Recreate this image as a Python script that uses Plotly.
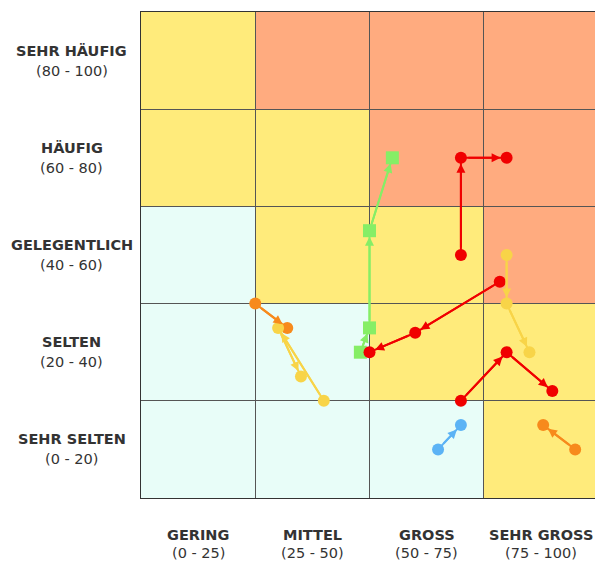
import plotly.graph_objects as go

# ---- data ----
x_labels = ["GERING", "MITTEL", "GROSS", "SEHR GROSS"]
x_ranges = ["(0 - 25)", "(25 - 50)", "(50 - 75)", "(75 - 100)"]
y_labels = ["SEHR SELTEN", "SELTEN", "GELEGENTLICH", "HÄUFIG", "SEHR HÄUFIG"]
y_ranges = ["(0 - 20)", "(20 - 40)", "(40 - 60)", "(60 - 80)", "(80 - 100)"]

# risk level per cell: rows bottom->top, columns left->right (0 low, 1 mid, 2 high)
risk_levels = [
    [0, 0, 0, 1],
    [0, 0, 1, 1],
    [0, 1, 1, 2],
    [1, 1, 2, 2],
    [1, 2, 2, 2],
]
level_colors = ["#E8FDF8", "#FFEB7B", "#FFAB7F"]

series_names = ["green", "red1", "red2", "red3", "yellow1", "orange1", "yellow2", "blue", "orange2"]
series_x = [
    [48, 50, 50, 55],
    [70, 70, 80],
    [78.5, 60, 50],
    [70, 80, 90],
    [80, 80, 85],
    [25, 32],
    [40, 30, 35],
    [65, 70],
    [95, 88],
]
series_y = [
    [30, 35, 55, 70],
    [50, 70, 70],
    [44.5, 34, 30],
    [20, 30, 22],
    [50, 40, 30],
    [40, 35],
    [20, 35, 25],
    [10, 15],
    [10, 15],
]
series_colors = ["#86EE66", "#F00000", "#F00000", "#F00000", "#F8D448", "#F78A1C", "#F8D448", "#5CB3F5", "#F78A1C"]
series_symbols = ["square", "circle", "circle", "circle", "circle", "circle", "circle", "circle", "circle"]

x_edges = [0, 25, 50, 75, 100]
y_edges = [0, 20, 40, 60, 80, 100]

fig = go.Figure()

shapes = []
for r, row in enumerate(risk_levels):
    for c, lvl in enumerate(row):
        shapes.append(dict(type="rect", xref="x", yref="y",
                           x0=x_edges[c], x1=x_edges[c + 1],
                           y0=y_edges[r], y1=y_edges[r + 1],
                           fillcolor=level_colors[lvl], line=dict(width=0),
                           layer="below"))

annotations = []
for i in range(len(series_names)):
    xs, ys, col = series_x[i], series_y[i], series_colors[i]
    fig.add_trace(go.Scatter(
        x=xs, y=ys, mode="lines", line=dict(color=col, width=2),
        hoverinfo="skip", showlegend=False))
    for k in range(len(xs) - 1):
        annotations.append(dict(
            x=xs[k + 1], y=ys[k + 1], ax=xs[k], ay=ys[k],
            xref="x", yref="y", axref="x", ayref="y", text="",
            showarrow=True, arrowhead=2, arrowsize=0.9, arrowwidth=2,
            arrowcolor=col, standoff=6, startstandoff=6))
    fig.add_trace(go.Scatter(
        x=xs, y=ys, mode="markers", name=series_names[i],
        marker=dict(color=col, size=13 if series_symbols[i] == "square" else 12,
                    symbol=series_symbols[i],
                    line=dict(width=0)),
        showlegend=False))

font_family = "DejaVu Sans, Verdana, sans-serif"
txt_color = "#333333"
fs = 14.5
for r in range(5):
    yc = (y_edges[r] + y_edges[r + 1]) / 2
    annotations.append(dict(x=-0.152, y=yc, xref="paper", yref="y", text="<b>" + y_labels[r] + "</b>",
                            xanchor="center", yanchor="middle",
                            showarrow=False, yshift=10, font=dict(size=fs, color=txt_color, family=font_family)))
    annotations.append(dict(x=-0.152, y=yc, xref="paper", yref="y", text=y_ranges[r],
                            xanchor="center", yanchor="middle",
                            showarrow=False, yshift=-10, font=dict(size=fs, color=txt_color, family=font_family)))
for c in range(4):
    xc = (x_edges[c] + x_edges[c + 1]) / 2
    annotations.append(dict(x=xc, y=0, xref="x", yref="paper", text="<b>" + x_labels[c] + "</b>",
                            xanchor="center", yanchor="middle",
                            showarrow=False, yshift=-37, font=dict(size=fs, color=txt_color, family=font_family)))
    annotations.append(dict(x=xc, y=0, xref="x", yref="paper", text=x_ranges[c],
                            xanchor="center", yanchor="middle",
                            showarrow=False, yshift=-55, font=dict(size=fs, color=txt_color, family=font_family)))

fig.update_layout(
    width=595, height=562,
    margin=dict(l=141, r=0, t=12, b=64),
    paper_bgcolor="white", plot_bgcolor="white",
    shapes=shapes, annotations=annotations,
    xaxis=dict(range=[0, 99.34], tick0=0, dtick=25, showgrid=True, gridcolor="#555555", gridwidth=1,
               showticklabels=False, zeroline=False, showline=True, linecolor="#333333", linewidth=1,
               mirror=True, fixedrange=True),
    yaxis=dict(range=[0, 100], tick0=0, dtick=20, showgrid=True, gridcolor="#555555", gridwidth=1,
               showticklabels=False, zeroline=False, showline=True, linecolor="#333333", linewidth=1,
               mirror=True, fixedrange=True),
)

fig.write_html("out.html", config={"displayModeBar": False},
               post_script="document.body.style.margin='0';document.body.style.overflow='hidden';")
